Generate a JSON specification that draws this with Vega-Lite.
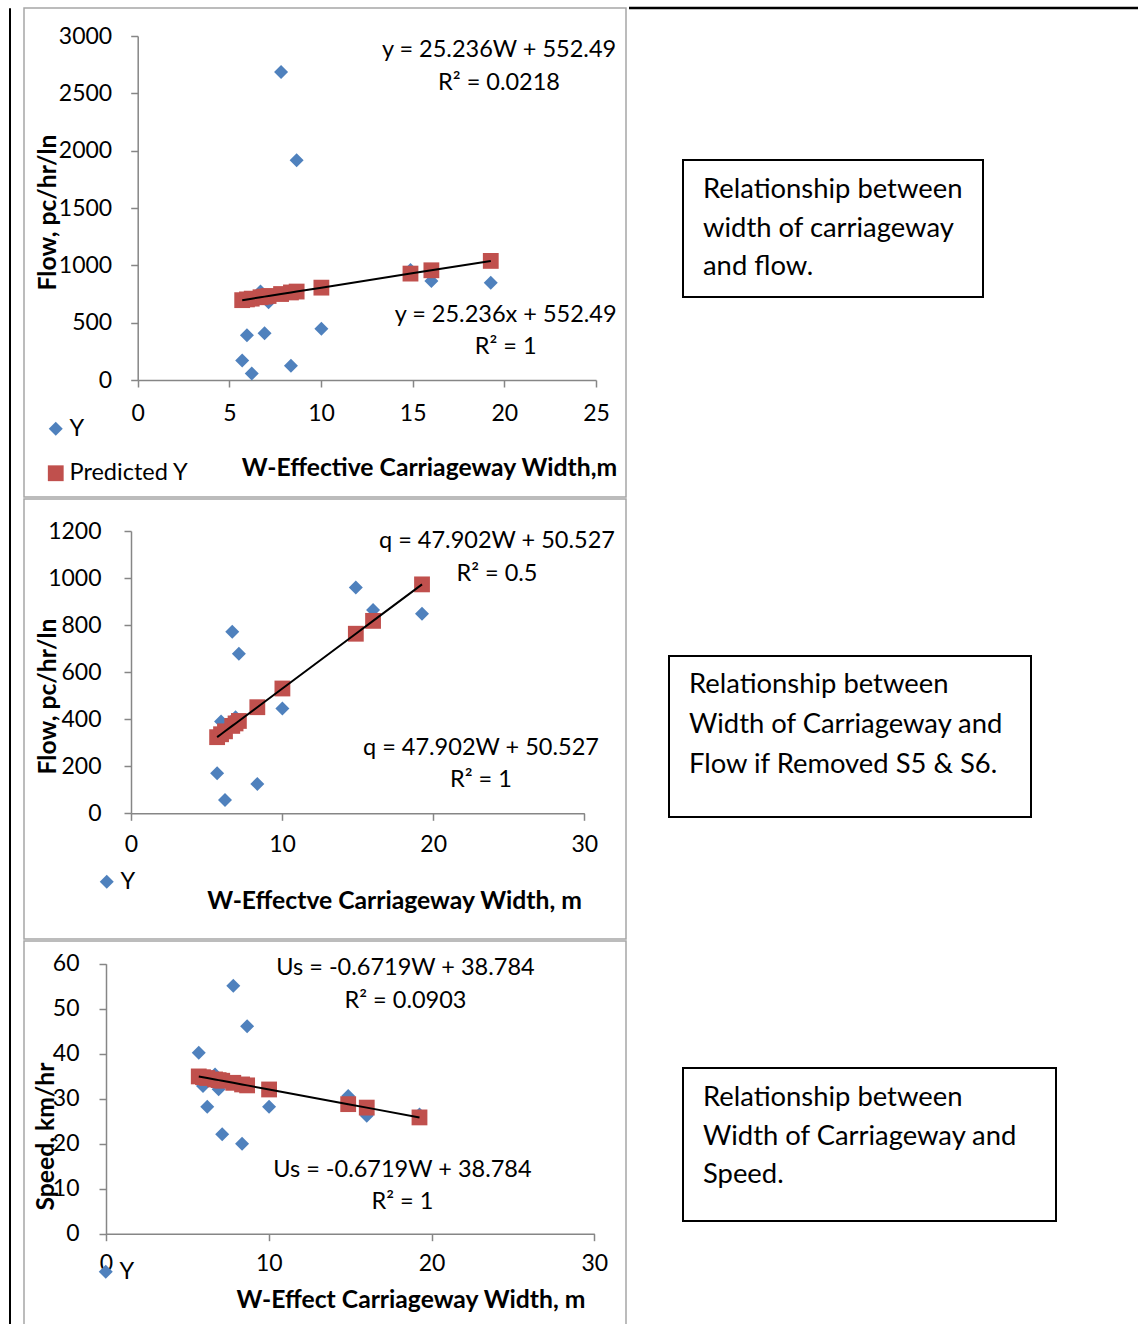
{
  "$schema": "https://vega.github.io/schema/vega-lite/v6.json",
  "padding": {"left": 8, "top": 6, "right": 0, "bottom": 0},
  "spacing": 12,
  "resolve": {"scale": {"color": "independent", "shape": "independent", "size": "independent"}, "legend": {"color": "independent", "shape": "independent", "size": "independent"}},
  "config": {
    "font": "Lato",
    "view": {"stroke": null},
    "axis": {
      "grid": false,
      "domainColor": "#868686",
      "tickColor": "#868686",
      "domainWidth": 1.5,
      "tickWidth": 1.5,
      "tickSize": 7,
      "labelFont": "Lato",
      "labelFontSize": 23,
      "labelColor": "#000000",
      "labelFlush": false,
      "labelOverlap": false,
      "format": "d",
      "titleFont": "Lato",
      "titleFontSize": 24.7,
      "titleFontWeight": "bold",
      "titleColor": "#000000"
    },
    "legend": {
      "labelFont": "Lato",
      "labelFontSize": 23.5,
      "labelColor": "#000000",
      "padding": 0,
      "symbolSize": 165,
      "symbolStrokeWidth": 0,
      "labelOffset": 2
    },
    "text": {"font": "Lato", "fontSize": 23.5, "color": "#000000"}
  },
  "datasets": {
    "p1": [
      {"W": 5.70, "value": 170, "series": "Y"},
      {"W": 5.96, "value": 390, "series": "Y"},
      {"W": 6.22, "value": 57, "series": "Y"},
      {"W": 6.70, "value": 772, "series": "Y"},
      {"W": 6.92, "value": 408, "series": "Y"},
      {"W": 7.14, "value": 678, "series": "Y"},
      {"W": 7.82, "value": 2686, "series": "Y"},
      {"W": 8.36, "value": 125, "series": "Y"},
      {"W": 8.67, "value": 1916, "series": "Y"},
      {"W": 10.02, "value": 446, "series": "Y"},
      {"W": 14.88, "value": 960, "series": "Y"},
      {"W": 16.02, "value": 864, "series": "Y"},
      {"W": 19.26, "value": 848, "series": "Y"},
      {"W": 5.70, "value": 696.3, "series": "Predicted Y"},
      {"W": 5.96, "value": 702.9, "series": "Predicted Y"},
      {"W": 6.22, "value": 709.5, "series": "Predicted Y"},
      {"W": 6.70, "value": 721.6, "series": "Predicted Y"},
      {"W": 6.92, "value": 727.1, "series": "Predicted Y"},
      {"W": 7.14, "value": 732.7, "series": "Predicted Y"},
      {"W": 7.82, "value": 749.8, "series": "Predicted Y"},
      {"W": 8.36, "value": 763.5, "series": "Predicted Y"},
      {"W": 8.67, "value": 771.3, "series": "Predicted Y"},
      {"W": 10.02, "value": 805.4, "series": "Predicted Y"},
      {"W": 14.88, "value": 928.0, "series": "Predicted Y"},
      {"W": 16.02, "value": 956.8, "series": "Predicted Y"},
      {"W": 19.26, "value": 1038.6, "series": "Predicted Y"}
    ],
    "p2": [
      {"W": 5.70, "value": 170, "series": "Y"},
      {"W": 5.96, "value": 390, "series": "Y"},
      {"W": 6.22, "value": 57, "series": "Y"},
      {"W": 6.70, "value": 772, "series": "Y"},
      {"W": 6.92, "value": 408, "series": "Y"},
      {"W": 7.14, "value": 678, "series": "Y"},
      {"W": 8.36, "value": 125, "series": "Y"},
      {"W": 10.02, "value": 446, "series": "Y"},
      {"W": 14.88, "value": 960, "series": "Y"},
      {"W": 16.02, "value": 864, "series": "Y"},
      {"W": 19.26, "value": 848, "series": "Y"},
      {"W": 5.70, "value": 323.6, "series": "Predicted Y"},
      {"W": 5.96, "value": 336.0, "series": "Predicted Y"},
      {"W": 6.22, "value": 348.5, "series": "Predicted Y"},
      {"W": 6.70, "value": 371.5, "series": "Predicted Y"},
      {"W": 6.92, "value": 382.0, "series": "Predicted Y"},
      {"W": 7.14, "value": 392.5, "series": "Predicted Y"},
      {"W": 8.36, "value": 451.0, "series": "Predicted Y"},
      {"W": 10.02, "value": 530.5, "series": "Predicted Y"},
      {"W": 14.88, "value": 763.3, "series": "Predicted Y"},
      {"W": 16.02, "value": 818.0, "series": "Predicted Y"},
      {"W": 19.26, "value": 973.1, "series": "Predicted Y"}
    ],
    "p3": [
      {"W": 5.70, "value": 40.2, "series": "Y"},
      {"W": 5.96, "value": 32.8, "series": "Y"},
      {"W": 6.22, "value": 28.2, "series": "Y"},
      {"W": 6.70, "value": 35.4, "series": "Y"},
      {"W": 6.92, "value": 32.1, "series": "Y"},
      {"W": 7.14, "value": 22.1, "series": "Y"},
      {"W": 7.82, "value": 55.1, "series": "Y"},
      {"W": 8.36, "value": 20.0, "series": "Y"},
      {"W": 8.67, "value": 46.1, "series": "Y"},
      {"W": 10.02, "value": 28.2, "series": "Y"},
      {"W": 14.88, "value": 30.6, "series": "Y"},
      {"W": 16.02, "value": 26.2, "series": "Y"},
      {"W": 19.26, "value": 26.5, "series": "Y"},
      {"W": 5.70, "value": 34.95, "series": "Predicted Y"},
      {"W": 5.96, "value": 34.78, "series": "Predicted Y"},
      {"W": 6.22, "value": 34.60, "series": "Predicted Y"},
      {"W": 6.70, "value": 34.28, "series": "Predicted Y"},
      {"W": 6.92, "value": 34.13, "series": "Predicted Y"},
      {"W": 7.14, "value": 33.99, "series": "Predicted Y"},
      {"W": 7.82, "value": 33.53, "series": "Predicted Y"},
      {"W": 8.36, "value": 33.17, "series": "Predicted Y"},
      {"W": 8.67, "value": 32.96, "series": "Predicted Y"},
      {"W": 10.02, "value": 32.05, "series": "Predicted Y"},
      {"W": 14.88, "value": 28.79, "series": "Predicted Y"},
      {"W": 16.02, "value": 28.02, "series": "Predicted Y"},
      {"W": 19.26, "value": 25.84, "series": "Predicted Y"}
    ]
  },
  "hconcat": [
    {"width": 1, "height": 1330, "view": {"stroke": "#000000", "strokeWidth": 1}, "data": {"values": [{}]},
     "mark": {"type": "text", "text": ""}, "encoding": {}},
    {
      "spacing": 0,
      "resolve": {"scale": {"color": "independent", "shape": "independent", "size": "independent"}, "legend": {"color": "independent", "shape": "independent", "size": "independent"}},
      "vconcat": [
        {
          "spacing": 0,
          "hconcat": [
            {
              "width": 602,
              "height": 489,
              "view": {"stroke": "#a6a6a6", "strokeWidth": 1.5},
              "layer": [
                {
                  "data": {"name": "p1"},
                  "mark": {"type": "point", "filled": true, "opacity": 1},
                  "encoding": {
                    "x": {"field": "W", "type": "quantitative",
                      "scale": {"domain": [0, 25], "range": [113.7, 572], "nice": false, "zero": false},
                      "axis": {"values": [0, 5, 10, 15, 20, 25], "offset": -117, "labelPadding": 15,
                        "title": "W-Effective Carriageway Width,m", "titleX": 405, "titleY": 88,
                        "titleBaseline": "middle", "titleAlign": "center"}},
                    "y": {"field": "value", "type": "quantitative",
                      "scale": {"domain": [0, 3000], "range": [372, 28], "nice": false},
                      "axis": {"values": [0, 500, 1000, 1500, 2000, 2500, 3000], "offset": -113.7, "labelPadding": 19,
                        "title": "Flow, pc/hr/ln", "titleX": -89.7, "titleY": 204, "titleAngle": -90,
                        "titleBaseline": "middle", "titleAlign": "center"}},
                    "color": {"field": "series", "type": "nominal",
                      "scale": {"domain": ["Y", "Predicted Y"], "range": ["#4F81BD", "#C0504D"]},
                      "legend": {"title": null, "orient": "none", "legendX": 20, "legendY": 409, "direction": "vertical", "rowPadding": 19.5}},
                    "shape": {"field": "series", "type": "nominal",
                      "scale": {"domain": ["Y", "Predicted Y"], "range": ["diamond", "square"]},
                      "legend": {"title": null, "orient": "none", "legendX": 20, "legendY": 409, "direction": "vertical", "rowPadding": 19.5}},
                    "size": {"field": "series", "type": "nominal",
                      "scale": {"domain": ["Y", "Predicted Y"], "range": [196, 250]}, "legend": null}
                  }
                },
                {
                  "data": {"name": "p1"},
                  "transform": [{"filter": "datum.series == 'Predicted Y'"}],
                  "mark": {"type": "line", "color": "#000000", "strokeWidth": 2},
                  "encoding": {
                    "x": {"field": "W", "type": "quantitative"},
                    "y": {"field": "value", "type": "quantitative"}
                  }
                },
                {"data": {"values": [{}]}, "mark": {"type": "text", "text": "y = 25.236W + 552.49", "align": "center", "baseline": "middle"},
                 "encoding": {"x": {"datum": 19.71}, "y": {"datum": 2878}}},
                {"data": {"values": [{}]}, "mark": {"type": "text", "text": "R² = 0.0218", "align": "center", "baseline": "middle"},
                 "encoding": {"x": {"datum": 19.71}, "y": {"datum": 2590}}},
                {"data": {"values": [{}]}, "mark": {"type": "text", "text": "y = 25.236x + 552.49", "align": "center", "baseline": "middle"},
                 "encoding": {"x": {"datum": 20.07}, "y": {"datum": 567}}},
                {"data": {"values": [{}]}, "mark": {"type": "text", "text": "R² = 1", "align": "center", "baseline": "middle"},
                 "encoding": {"x": {"datum": 20.07}, "y": {"datum": 288}}}
              ]
            },
            {
              "spacing": 0,
              "vconcat": [
                {"width": 513, "height": 151, "view": {"stroke": null}, "data": {"values": [{}]},
                 "mark": {"type": "rule", "color": "#000000", "strokeWidth": 2.5},
                 "encoding": {
                   "x": {"datum": 0, "type": "quantitative", "scale": {"domain": [0, 1]}, "axis": null},
                   "x2": {"datum": 1},
                   "y": {"datum": 1, "type": "quantitative", "scale": {"domain": [0, 1]}, "axis": null}
                 }},
                {
                  "spacing": 52,
                  "hconcat": [
                    {"width": 1, "height": 40, "view": {"stroke": null}, "data": {"values": [{}]},
                     "mark": {"type": "text", "text": ""}, "encoding": {}},
                    {
                      "width": 300, "height": 137,
                      "view": {"stroke": "#000000", "strokeWidth": 2},
                      "data": {"values": [
                        {"line": 1, "text": "Relationship between"},
                        {"line": 2, "text": "width of carriageway"},
                        {"line": 3, "text": "and flow."}
                      ]},
                      "mark": {"type": "text", "align": "left", "baseline": "middle", "fontSize": 27.4, "dx": 20},
                      "encoding": {
                        "y": {"field": "line", "type": "ordinal", "scale": {"type": "point", "padding": 0.779, "align": 0.5}, "axis": null},
                        "x": {"datum": 0, "type": "quantitative", "scale": {"domain": [0, 1]}, "axis": null},
                        "text": {"field": "text"}
                      }
                    }
                  ]
                }
              ]
            }
          ]
        },
        {
          "spacing": 41,
          "hconcat": [
            {
              "width": 602,
              "height": 440,
              "view": {"stroke": "#a6a6a6", "strokeWidth": 1.5},
              "layer": [
                {
                  "data": {"name": "p2"},
                  "mark": {"type": "point", "filled": true, "opacity": 1},
                  "encoding": {
                    "x": {"field": "W", "type": "quantitative",
                      "scale": {"domain": [0, 30], "range": [107, 560.3], "nice": false, "zero": false},
                      "axis": {"values": [0, 10, 20, 30], "offset": -125.7, "labelPadding": 13,
                        "title": "W-Effectve Carriageway Width, m", "titleX": 370, "titleY": 88,
                        "titleBaseline": "middle", "titleAlign": "center"}},
                    "y": {"field": "value", "type": "quantitative",
                      "scale": {"domain": [0, 1200], "range": [314.3, 32], "nice": false},
                      "axis": {"values": [0, 200, 400, 600, 800, 1000, 1200], "offset": -107, "labelPadding": 23,
                        "title": "Flow, pc/hr/ln", "titleX": -83, "titleY": 197, "titleAngle": -90,
                        "titleBaseline": "middle", "titleAlign": "center"}},
                    "color": {"field": "series", "type": "nominal",
                      "scale": {"domain": ["Y", "Predicted Y"], "range": ["#4F81BD", "#C0504D"]},
                      "legend": {"title": null, "orient": "none", "legendX": 71, "legendY": 371, "values": ["Y"]}},
                    "shape": {"field": "series", "type": "nominal",
                      "scale": {"domain": ["Y", "Predicted Y"], "range": ["diamond", "square"]},
                      "legend": {"title": null, "orient": "none", "legendX": 71, "legendY": 371, "values": ["Y"]}},
                    "size": {"field": "series", "type": "nominal",
                      "scale": {"domain": ["Y", "Predicted Y"], "range": [196, 250]}, "legend": null}
                  }
                },
                {
                  "data": {"name": "p2"},
                  "transform": [{"filter": "datum.series == 'Predicted Y'"}],
                  "mark": {"type": "line", "color": "#000000", "strokeWidth": 2},
                  "encoding": {
                    "x": {"field": "W", "type": "quantitative"},
                    "y": {"field": "value", "type": "quantitative"}
                  }
                },
                {"data": {"values": [{}]}, "mark": {"type": "text", "text": "q = 47.902W + 50.527", "align": "center", "baseline": "middle"},
                 "encoding": {"x": {"datum": 24.22}, "y": {"datum": 1157}}},
                {"data": {"values": [{}]}, "mark": {"type": "text", "text": "R² = 0.5", "align": "center", "baseline": "middle"},
                 "encoding": {"x": {"datum": 24.22}, "y": {"datum": 1017}}},
                {"data": {"values": [{}]}, "mark": {"type": "text", "text": "q = 47.902W + 50.527", "align": "center", "baseline": "middle"},
                 "encoding": {"x": {"datum": 23.16}, "y": {"datum": 277.5}}},
                {"data": {"values": [{}]}, "mark": {"type": "text", "text": "R² = 1", "align": "center", "baseline": "middle"},
                 "encoding": {"x": {"datum": 23.16}, "y": {"datum": 141.5}}}
              ]
            },
            {
              "spacing": 0,
              "vconcat": [
                {"width": 10, "height": 156, "view": {"stroke": null}, "data": {"values": [{}]},
                 "mark": {"type": "text", "text": ""}, "encoding": {}},
                {
                  "width": 362, "height": 161,
                  "view": {"stroke": "#000000", "strokeWidth": 2},
                  "data": {"values": [
                    {"line": 1, "text": "Relationship between"},
                    {"line": 2, "text": "Width of Carriageway and"},
                    {"line": 3, "text": "Flow if Removed S5 & S6."}
                  ]},
                  "mark": {"type": "text", "align": "left", "baseline": "middle", "fontSize": 27.4, "dx": 20},
                  "encoding": {
                    "y": {"field": "line", "type": "ordinal", "scale": {"type": "point", "padding": 1.091, "align": 0.357}, "axis": null},
                    "x": {"datum": 0, "type": "quantitative", "scale": {"domain": [0, 1]}, "axis": null},
                    "text": {"field": "text"}
                  }
                }
              ]
            }
          ]
        },
        {
          "spacing": 55,
          "hconcat": [
            {
              "width": 602,
              "height": 400,
              "view": {"stroke": "#a6a6a6", "strokeWidth": 1.5},
              "layer": [
                {
                  "data": {"name": "p3"},
                  "mark": {"type": "point", "filled": true, "opacity": 1},
                  "encoding": {
                    "x": {"field": "W", "type": "quantitative",
                      "scale": {"domain": [0, 30], "range": [82, 570.3], "nice": false, "zero": false},
                      "axis": {"values": [0, 10, 20, 30], "offset": -107.3, "labelPadding": 12,
                        "title": "W-Effect Carriageway Width, m", "titleX": 386.5, "titleY": 67,
                        "titleBaseline": "middle", "titleAlign": "center"}},
                    "y": {"field": "value", "type": "quantitative",
                      "scale": {"domain": [0, 60], "range": [292.7, 22.7], "nice": false},
                      "axis": {"values": [0, 10, 20, 30, 40, 50, 60], "offset": -82, "labelPadding": 20,
                        "title": "Speed, km/hr", "titleX": -60, "titleY": 195, "titleAngle": -90,
                        "titleBaseline": "middle", "titleAlign": "center"}},
                    "color": {"field": "series", "type": "nominal",
                      "scale": {"domain": ["Y", "Predicted Y"], "range": ["#4F81BD", "#C0504D"]},
                      "legend": {"title": null, "orient": "none", "legendX": 70, "legendY": 319, "values": ["Y"]}},
                    "shape": {"field": "series", "type": "nominal",
                      "scale": {"domain": ["Y", "Predicted Y"], "range": ["diamond", "square"]},
                      "legend": {"title": null, "orient": "none", "legendX": 70, "legendY": 319, "values": ["Y"]}},
                    "size": {"field": "series", "type": "nominal",
                      "scale": {"domain": ["Y", "Predicted Y"], "range": [196, 250]}, "legend": null}
                  }
                },
                {
                  "data": {"name": "p3"},
                  "transform": [{"filter": "datum.series == 'Predicted Y'"}],
                  "mark": {"type": "line", "color": "#000000", "strokeWidth": 2},
                  "encoding": {
                    "x": {"field": "W", "type": "quantitative"},
                    "y": {"field": "value", "type": "quantitative"}
                  }
                },
                {"data": {"values": [{}]}, "mark": {"type": "text", "text": "Us = -0.6719W + 38.784", "align": "center", "baseline": "middle"},
                 "encoding": {"x": {"datum": 18.40}, "y": {"datum": 59.04}}},
                {"data": {"values": [{}]}, "mark": {"type": "text", "text": "R² = 0.0903", "align": "center", "baseline": "middle"},
                 "encoding": {"x": {"datum": 18.40}, "y": {"datum": 51.7}}},
                {"data": {"values": [{}]}, "mark": {"type": "text", "text": "Us = -0.6719W + 38.784", "align": "center", "baseline": "middle"},
                 "encoding": {"x": {"datum": 18.21}, "y": {"datum": 14.16}}},
                {"data": {"values": [{}]}, "mark": {"type": "text", "text": "R² = 1", "align": "center", "baseline": "middle"},
                 "encoding": {"x": {"datum": 18.21}, "y": {"datum": 7.04}}}
              ]
            },
            {
              "spacing": 0,
              "vconcat": [
                {"width": 10, "height": 126, "view": {"stroke": null}, "data": {"values": [{}]},
                 "mark": {"type": "text", "text": ""}, "encoding": {}},
                {
                  "width": 373, "height": 153,
                  "view": {"stroke": "#000000", "strokeWidth": 2},
                  "data": {"values": [
                    {"line": 1, "text": "Relationship between"},
                    {"line": 2, "text": "Width of Carriageway and"},
                    {"line": 3, "text": "Speed."}
                  ]},
                  "mark": {"type": "text", "align": "left", "baseline": "middle", "fontSize": 27.4, "dx": 20},
                  "encoding": {
                    "y": {"field": "line", "type": "ordinal", "scale": {"type": "point", "padding": 0.987, "align": 0.395}, "axis": null},
                    "x": {"datum": 0, "type": "quantitative", "scale": {"domain": [0, 1]}, "axis": null},
                    "text": {"field": "text"}
                  }
                }
              ]
            }
          ]
        }
      ]
    }
  ]
}
